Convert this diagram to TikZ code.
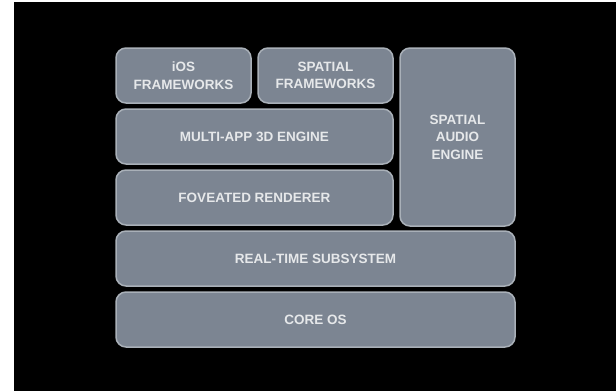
\documentclass[tikz,border=0pt]{standalone}
\usepackage{fontspec}
\setmainfont{Liberation Sans}
\usepackage{tikz}

\definecolor{layerfill}{HTML}{7C8592}
\definecolor{layerrim}{HTML}{A9B0B8}
\definecolor{layertext}{HTML}{E6E8EA}

\tikzset{
    layer/.style={draw=layerrim, line width=1.5pt, fill=layerfill,
        rounded corners=10pt, text=layertext, align=center, inner sep=0pt,
        font=\fontsize{13.5}{17.5}\selectfont\bfseries, minimum height=55pt},
}

\begin{document}
\begin{tikzpicture}[x=1pt,y=-1pt]
    % Frame
    \useasboundingbox (0,0) rectangle (616,391);
    \fill[white] (0,0) rectangle (616,391);
    \fill[black] (14,2) rectangle (616,391);

    % Top row
    \node[layer, minimum width=135pt] (ios) at (183.5,75.5) {iOS\\FRAMEWORKS};
    \node[layer, minimum width=135pt] (spfw) at (325.5,75.5) {SPATIAL\\FRAMEWORKS};
    \node[layer, minimum width=115pt, minimum height=178pt] (audio) at (457.5,137) {SPATIAL\\AUDIO\\ENGINE};

    % Middle rows
    \node[layer, minimum width=277pt] (multi) at (254.5,136.5) {MULTI-APP 3D ENGINE};
    \node[layer, minimum width=277pt] (fov) at (254.5,197.5) {FOVEATED RENDERER};

    % Full width rows
    \node[layer, minimum width=399pt] (rts) at (315.5,258.5) {REAL-TIME SUBSYSTEM};
    \node[layer, minimum width=399pt] (core) at (315.5,319.5) {CORE OS};
\end{tikzpicture}
\end{document}
